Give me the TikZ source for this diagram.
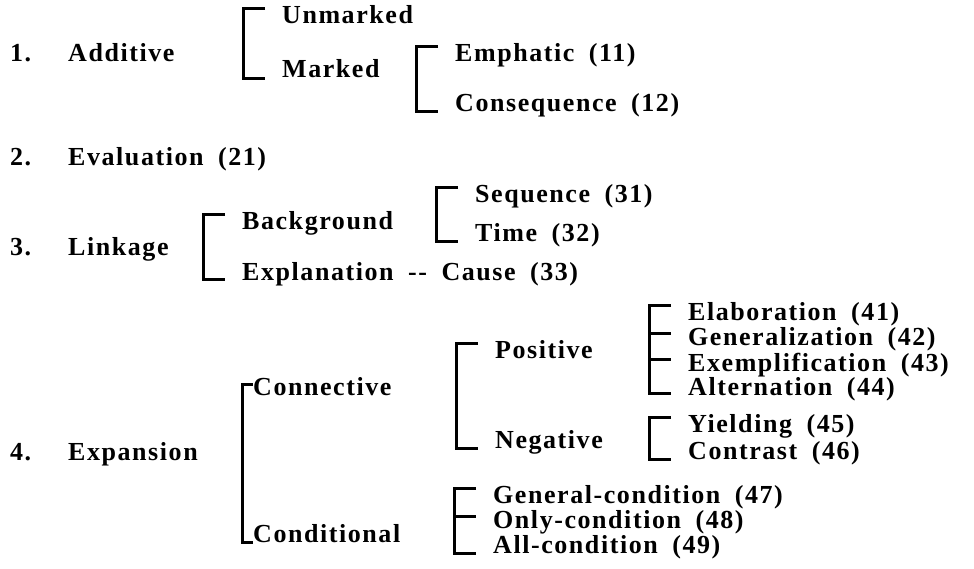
\documentclass[tikz,border=0pt]{standalone}
\usepackage{fontspec}
\setmainfont{Liberation Serif}[LetterSpace=6,WordSpace=1.8]
\newcommand{\lbl}{\fontsize{26}{30}\selectfont\bfseries}

\begin{document}
\begin{tikzpicture}[x=1pt,y=-1pt,every node/.style={anchor=base west,inner sep=0pt,font=\lbl},brk/.style={line width=3pt,line join=miter}]
		\useasboundingbox (0,0) rectangle (974,569);
		% 1. Additive
		\node (n1)   at (10,62)  {1.};
		\node (add)  at (68,62)  {Additive};
		\node (unm)  at (282,24) {Unmarked};
		\node (mrk)  at (282,78) {Marked};
		\draw[brk] ([xshift=-17pt,yshift=15pt]unm.base west) -| ([xshift=-39pt,yshift=-1pt]mrk.base west) -- ([xshift=-17pt,yshift=-1pt]mrk.base west);
		\node (emph) at (455,62)  {Emphatic (11)};
		\node (cons) at (455,112) {Consequence (12)};
		\draw[brk] ([xshift=-17pt,yshift=15pt]emph.base west) -| ([xshift=-39pt]cons.base west) -- ([xshift=-17pt]cons.base west);
		% 2. Evaluation
		\node (n2)   at (10,166) {2.};
		\node (eval) at (68,166) {Evaluation (21)};
		% 3. Linkage
		\node (n3)   at (10,256) {3.};
		\node (link) at (68,256) {Linkage};
		\node (back) at (242,230) {Background};
		\node (expl) at (242,280) {Explanation -{}- Cause (33)};
		\draw[brk] ([xshift=-17pt,yshift=15pt]back.base west) -| ([xshift=-39pt]expl.base west) -- ([xshift=-17pt]expl.base west);
		\node (seq)  at (475,203) {Sequence (31)};
		\node (time) at (475,242) {Time (32)};
		\draw[brk] ([xshift=-17pt,yshift=15pt]seq.base west) -| ([xshift=-39pt]time.base west) -- ([xshift=-17pt]time.base west);
		% 4. Expansion
		\node (n4)   at (10,460) {4.};
		\node (expa) at (68,460) {Expansion};
		\node (conn) at (253,395) {Connective};
		\node (cond) at (253,542) {Conditional};
		\draw[brk] ([yshift=11pt]conn.base west) -| ([xshift=-11pt]cond.base west) -- (cond.base west);
		\node (pos)  at (495,358) {Positive};
		\node (neg)  at (495,448) {Negative};
		\draw[brk] ([xshift=-17pt,yshift=15pt]pos.base west) -| ([xshift=-39pt]neg.base west) -- ([xshift=-17pt]neg.base west);
		\node (elab) at (688,320) {Elaboration (41)};
		\node (gen)  at (688,345) {Generalization (42)};
		\node (exem) at (688,371) {Exemplification (43)};
		\node (alt)  at (688,395) {Alternation (44)};
		\draw[brk] ([xshift=-17pt,yshift=15pt]elab.base west) -| ([xshift=-39pt,yshift=2pt]alt.base west) -- ([xshift=-17pt,yshift=2pt]alt.base west);
		\foreach \n in {gen,exem}
			\draw[brk] ([xshift=-39pt,yshift=12pt]\n.base west) -- ([xshift=-17pt,yshift=12pt]\n.base west);
		\node (yld)  at (688,432) {Yielding (45)};
		\node (cntr) at (688,459) {Contrast (46)};
		\draw[brk] ([xshift=-17pt,yshift=15pt]yld.base west) -| ([xshift=-39pt]cntr.base west) -- ([xshift=-17pt]cntr.base west);
		\node (gcnd) at (493,503) {General-condition (47)};
		\node (ocnd) at (493,528) {Only-condition (48)};
		\node (acnd) at (493,553) {All-condition (49)};
		\draw[brk] ([xshift=-17pt,yshift=15pt]gcnd.base west) -| ([xshift=-39pt]acnd.base west) -- ([xshift=-17pt]acnd.base west);
		\draw[brk] ([xshift=-39pt,yshift=12pt]ocnd.base west) -- ([xshift=-17pt,yshift=12pt]ocnd.base west);
	\end{tikzpicture}
\end{document}
